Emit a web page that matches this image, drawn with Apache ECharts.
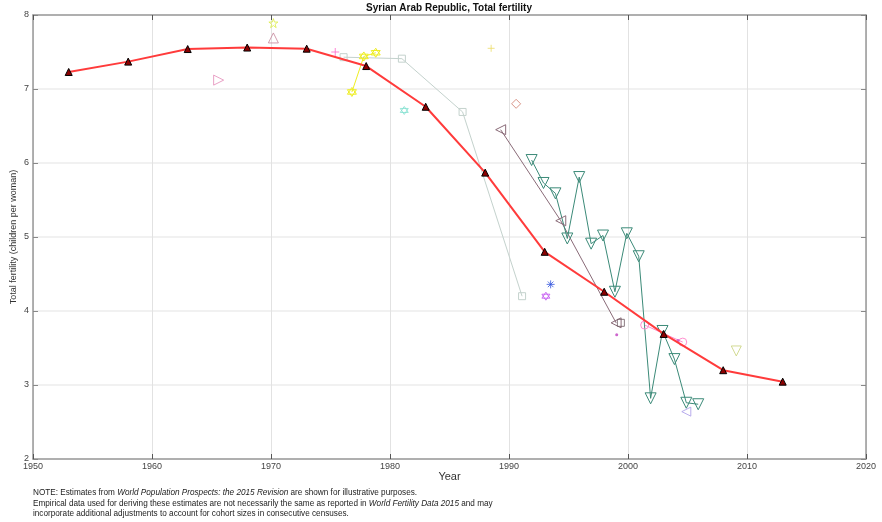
<!DOCTYPE html>
<html>
<head>
<meta charset="utf-8">
<script src="https://cdn.jsdelivr.net/npm/echarts@6/dist/echarts.min.js"></script>
<style>html,body{margin:0;padding:0;background:#fff;}#c{width:882px;height:522px;}</style>
</head>
<body>
<div id="c"></div>
<script>
// ---- data ----
const xTicks = [1950, 1960, 1970, 1980, 1990, 2000, 2010, 2020];
const yTicks = [2, 3, 4, 5, 6, 7, 8];

const estYears = [1953, 1958, 1963, 1968, 1973, 1978, 1983, 1988, 1993, 1998, 2003, 2008, 2013];
const estTFR   = [7.23, 7.37, 7.54, 7.56, 7.545, 7.31, 6.76, 5.87, 4.80, 4.26, 3.69, 3.20, 3.045];

const greySqYears = [1976.1, 1981.0, 1986.1, 1991.1];
const greySqTFR   = [7.43, 7.41, 6.69, 4.20];

const yellowYears = [1976.8, 1977.8, 1978.8];
const yellowTFR   = [6.96, 7.44, 7.49];

const mauveLeftYears = [1989.3, 1994.35, 1999.0];
const mauveLeftTFR   = [6.45, 5.22, 3.84];

const greenYears = [1991.9, 1992.9, 1993.9, 1994.9, 1995.9, 1996.9, 1997.9, 1998.9, 1999.9, 2000.9, 2001.9, 2002.9, 2003.9, 2004.9, 2005.9];
const greenTFR   = [6.04, 5.73, 5.59, 4.98, 5.81, 4.91, 5.02, 4.26, 5.05, 4.74, 2.82, 3.73, 3.35, 2.76, 2.74];

const pinkCircYears = [2001.4, 2004.6];
const pinkCircTFR   = [3.81, 3.58];

const starYears = [1970.2];       const starTFR = [7.89];
const triUpYears = [1970.2];      const triUpTFR = [7.69];
const triRightYears = [1965.6];   const triRightTFR = [7.12];
const pinkPlusYears = [1975.4];   const pinkPlusTFR = [7.50];
const cyanHexYears = [1981.2];    const cyanHexTFR = [6.71];
const yPlusYears = [1988.5];      const yPlusTFR = [7.55];
const diamondYears = [1990.6];    const diamondTFR = [6.80];
const asteriskYears = [1993.5];   const asteriskTFR = [4.36];
const purpleHexYears = [1993.1];  const purpleHexTFR = [4.20];
const purpleDotYears = [1999.05]; const purpleDotTFR = [3.68];
const darkSqYears = [1999.4];     const darkSqTFR = [3.84];
const magDotYears = [2004.2];     const magDotTFR = [3.60];
const lavLeftYears = [2004.9];    const lavLeftTFR = [2.64];
const oliveDownYears = [2009.1];  const oliveDownTFR = [3.46];

// ---- symbols ----
const S = {
  triDown: 'path://M0,0 L10,0 L5,9 Z',
  triLeft: 'path://M0,5 L9,0 L9,10 Z',
  triRight: 'path://M0,0 L9,5 L0,10 Z',
  hexagram: 'path://M5,0 L9.33,7.5 L0.67,7.5 Z M5,10 L0.67,2.5 L9.33,2.5 Z',
  star: 'path://M5,0 L6.2,3.6 L10,3.6 L6.9,5.9 L8.1,9.5 L5,7.3 L1.9,9.5 L3.1,5.9 L0,3.6 L3.8,3.6 Z',
  plus: 'path://M5,0 L5,10 M0,5 L10,5',
  asterisk: 'path://M5,0 L5,10 M0,5 L10,5 M1.5,1.5 L8.5,8.5 M8.5,1.5 L1.5,8.5'
};

function pairs(xs, ys) { return xs.map((x, i) => [x, ys[i]]); }

function obs(name, xs, ys, color, symbol, size, withLine, z) {
  return {
    name: name,
    type: withLine ? 'line' : 'scatter',
    data: pairs(xs, ys),
    symbol: symbol,
    symbolSize: size,
    showSymbol: true,
    z: z || 3,
    lineStyle: { color: color, width: 1 },
    itemStyle: { color: 'rgba(255,255,255,0)', borderColor: color, borderWidth: 1 },
    emphasis: { disabled: true }
  };
}

const chart = echarts.init(document.getElementById('c'), null, { renderer: 'canvas' });

const FONT = 'Liberation Sans, Arial, sans-serif';
const axisLabelStyle = { color: '#444', fontSize: 9, fontFamily: FONT };

chart.setOption({
  animation: false,
  backgroundColor: '#fff',
  title: {
    text: 'Syrian Arab Republic, Total fertility',
    left: 449, top: 3, padding: 0, textAlign: 'center',
    textStyle: { fontSize: 10, fontWeight: 'bold', color: '#111', fontFamily: FONT }
  },
  grid: { left: 33, right: 16, top: 15, bottom: 63, containLabel: false, outerBoundsMode: 'none' },
  xAxis: [{
    type: 'value', min: xTicks[0], max: xTicks[xTicks.length - 1], interval: 10,
    name: 'Year', nameLocation: 'middle', nameGap: 12, nameMoveOverlap: false,
    nameTextStyle: { fontSize: 11, color: '#333', fontFamily: FONT },
    axisLine: { show: true, lineStyle: { color: '#999', width: 1.5 } },
    axisTick: { show: true, inside: true, length: 5, lineStyle: { color: '#555' } },
    axisLabel: Object.assign({ margin: 3, formatter: v => String(v) }, axisLabelStyle),
    splitLine: { show: true, lineStyle: { color: '#e2e2e2', width: 1 } }
  }, {
    type: 'value', position: 'top', min: xTicks[0], max: xTicks[xTicks.length - 1], interval: 10,
    axisLine: { show: true, lineStyle: { color: '#999', width: 1.5 } },
    axisTick: { show: true, inside: true, length: 5, lineStyle: { color: '#555' } },
    axisLabel: { show: false }, splitLine: { show: false }
  }],
  yAxis: [{
    type: 'value', min: yTicks[0], max: yTicks[yTicks.length - 1], interval: 1,
    name: 'Total fertility (children per woman)', nameLocation: 'middle', nameGap: 15, nameMoveOverlap: false,
    nameTextStyle: { fontSize: 9, color: '#333', fontFamily: FONT },
    axisLine: { show: true, lineStyle: { color: '#999', width: 1.5 } },
    axisTick: { show: true, inside: true, length: 5, lineStyle: { color: '#888' } },
    axisLabel: Object.assign({ margin: 4 }, axisLabelStyle),
    splitLine: { show: true, lineStyle: { color: '#ececec', width: 1.5 } }
  }, {
    type: 'value', position: 'right', min: yTicks[0], max: yTicks[yTicks.length - 1], interval: 1,
    axisLine: { show: true, lineStyle: { color: '#999', width: 1.5 } },
    axisTick: { show: true, inside: true, length: 5, lineStyle: { color: '#888' } },
    axisLabel: { show: false }, splitLine: { show: false }
  }],
  series: [
    obs('greySq', greySqYears, greySqTFR, '#c4d2cd', 'rect', 7, true),
    obs('yellow', yellowYears, yellowTFR, '#eeee22', S.hexagram, 9, true),
    obs('mauveLeft', mauveLeftYears, mauveLeftTFR, '#8a6b78', S.triLeft, 10, true),
    obs('green', greenYears, greenTFR, '#3b8a78', S.triDown, 11, true),
    obs('pinkCirc', pinkCircYears, pinkCircTFR, '#ff8fd0', 'circle', 8, true),
    obs('star', starYears, starTFR, '#dcee44', S.star, 9, false),
    obs('triUp', triUpYears, triUpTFR, '#c4849a', 'triangle', 10, false),
    obs('triRight', triRightYears, triRightTFR, '#e48ab8', S.triRight, 10, false),
    obs('pinkPlus', pinkPlusYears, pinkPlusTFR, '#ff66cc', S.plus, 8, false),
    obs('cyanHex', cyanHexYears, cyanHexTFR, '#80e0d0', S.hexagram, 8, false),
    obs('yPlus', yPlusYears, yPlusTFR, '#ecdc66', S.plus, 7, false),
    obs('diamond', diamondYears, diamondTFR, '#d07a6c', 'diamond', 9, false),
    obs('asterisk', asteriskYears, asteriskTFR, '#3355dd', S.asterisk, 8, false),
    obs('purpleHex', purpleHexYears, purpleHexTFR, '#c050f0', S.hexagram, 8, false),
    obs('darkSq', darkSqYears, darkSqTFR, '#6e5a62', 'rect', 7, false),
    obs('lavLeft', lavLeftYears, lavLeftTFR, '#a898e8', S.triLeft, 9, false),
    obs('oliveDown', oliveDownYears, oliveDownTFR, '#c8d27a', S.triDown, 10, false),
    {
      name: 'purpleDot', type: 'scatter', data: pairs(purpleDotYears, purpleDotTFR),
      symbol: 'circle', symbolSize: 3, itemStyle: { color: '#c040c0' }, z: 3
    },
    {
      name: 'magDot', type: 'scatter', data: pairs(magDotYears, magDotTFR),
      symbol: 'circle', symbolSize: 3, itemStyle: { color: '#cc44cc' }, z: 3
    },
    {
      name: 'estimates', type: 'line', data: pairs(estYears, estTFR),
      symbol: 'triangle', symbolSize: 7, z: 10,
      lineStyle: { color: '#ff3b3b', width: 2 },
      itemStyle: { color: '#8b0000', borderColor: '#000', borderWidth: 1 },
      emphasis: { disabled: true }
    }
  ],
  graphic: [{
    type: 'text', left: 33, top: 489,
    style: {
      text: '{n|NOTE: Estimates from }{i|World Population Prospects: the 2015 Revision}{n| are shown for illustrative purposes.}\n' +
            '{n|Empirical data used for deriving these estimates are not necessarily the same as reported in }{i|World Fertility Data 2015}{n| and may}\n' +
            '{n|incorporate additional adjustments to account for cohort sizes in consecutive censuses.}',
      rich: {
        n: { fontSize: 8.2, fill: '#222', lineHeight: 10.5, fontFamily: FONT },
        i: { fontSize: 8.2, fill: '#222', fontStyle: 'italic', lineHeight: 10.5, fontFamily: FONT }
      }
    }
  }]
});
</script>
</body>
</html>
